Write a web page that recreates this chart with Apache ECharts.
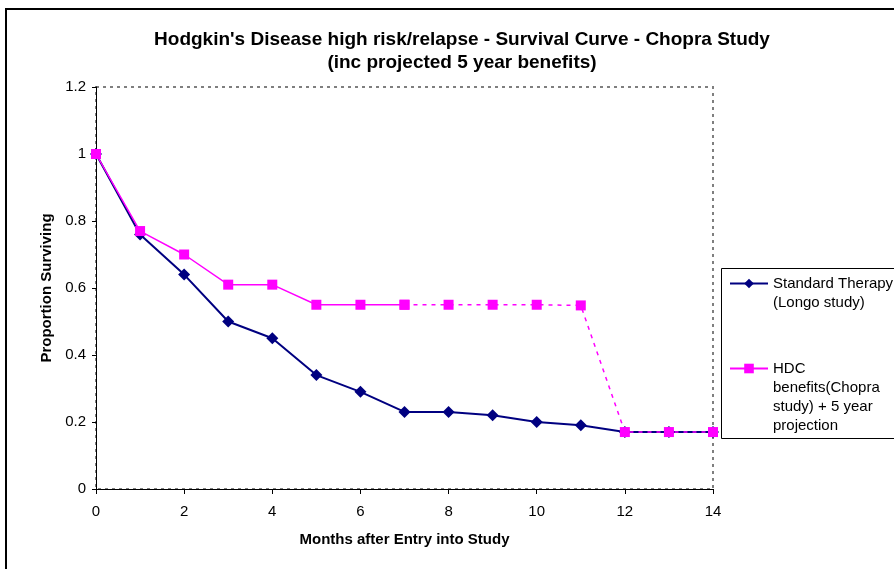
<!DOCTYPE html>
<html>
<head>
<meta charset="utf-8">
<script src="https://cdn.jsdelivr.net/npm/echarts@6/dist/echarts.min.js"></script>
<style>html,body{margin:0;padding:0;background:#fff}#c{width:894px;height:569px}</style>
</head>
<body>
<div id="c"></div>
<script>
var months = [0,1,2,3,4,5,6,7,8,9,10,11,12,13,14];
var standardTherapy = [1.00,0.76,0.64,0.50,0.45,0.34,0.29,0.23,0.23,0.22,0.20,0.19,0.17,0.17,0.17];
var hdcObserved = [1.00,0.77,0.70,0.61,0.61,0.55,0.55,0.55,null,null,null,null,null,null,null];
var hdcProjected = [null,null,null,null,null,null,null,0.55,0.55,0.55,0.55,0.548,0.17,0.17,0.17];
var yTicks = [0,0.2,0.4,0.6,0.8,1,1.2];
var xTicks = [0,2,4,6,8,10,12,14];

var nameStd = 'Standard Therapy\n(Longo study)';
var nameHdc = 'HDC\nbenefits(Chopra\nstudy) + 5 year\nprojection';

function pairs(xs, ys){ return xs.map(function(x,i){ return [x, ys[i]]; }); }

var chart = echarts.init(document.getElementById('c'));
var font = '"Liberation Sans", Arial, sans-serif';
var LH = 19;
chart.setOption({
  backgroundColor: '#fff',
  animation: false,
  textStyle: {fontFamily: font},
  title: {
    text: "Hodgkin's Disease high risk/relapse - Survival Curve - Chopra Study\n(inc projected 5 year benefits)",
    left: 457, top: 23, textAlign: 'center',
    textStyle: {fontFamily: font, fontSize: 19, fontWeight: 'bold', color: '#000', lineHeight: 23}
  },
  graphic: [{
    type: 'rect', silent: true, z: -1,
    shape: {x: 6, y: 9, width: 900, height: 570},
    style: {fill: 'none', stroke: '#000', lineWidth: 2}
  }, {
    type: 'rect', silent: true, z: -1,
    shape: {x: 721.5, y: 268.5, width: 180, height: 170},
    style: {fill: 'none', stroke: '#000', lineWidth: 1}
  }],
  grid: {
    left: 96, right: 181, top: 87, bottom: 80,
    show: true, borderColor: '#7f7f7f', borderWidth: 2, borderType: [3, 4]
  },
  legend: {
    orient: 'vertical', left: 729, top: 255,
    padding: 0,
    itemGap: -10,
    itemWidth: 38, itemHeight: 12,
    textStyle: {fontFamily: font, fontSize: 15, color: '#000', lineHeight: LH},
    formatter: function(name){
      var lines = name.split('\n').length;
      var pre = '';
      for (var i = 0; i < lines - 1; i++) pre += '\n';
      return pre + name;
    },
    data: [nameStd, nameHdc]
  },
  xAxis: {
    type: 'value', min: 0, max: 14, interval: 2,
    name: 'Months after Entry into Study', nameLocation: 'middle', nameGap: 43,
    nameTextStyle: {fontFamily: font, fontSize: 15, fontWeight: 'bold', color: '#000'},
    axisLine: {lineStyle: {color: '#000', width: 1}},
    axisTick: {show: true, length: 5, lineStyle: {color: '#000'}},
    axisLabel: {margin: 15, fontSize: 15, color: '#000', fontFamily: font,
      formatter: function(v){ return xTicks.indexOf(v) >= 0 ? String(v) : ''; }},
    splitLine: {show: false}
  },
  yAxis: {
    type: 'value', min: 0, max: 1.2, interval: 0.2,
    name: 'Proportion Surviving', nameLocation: 'middle', nameGap: 41, nameRotate: 90,
    nameTextStyle: {fontFamily: font, fontSize: 15, fontWeight: 'bold', color: '#000'},
    axisLine: {show: true, lineStyle: {color: '#000', width: 1}},
    axisTick: {show: true, length: 4, lineStyle: {color: '#000'}},
    axisLabel: {margin: 10, fontSize: 15, color: '#000', fontFamily: font,
      formatter: function(v){
        var t = yTicks.filter(function(a){ return Math.abs(a - v) < 1e-6; });
        return t.length ? String(t[0]) : '';
      }},
    splitLine: {show: false}
  },
  series: [
    {
      name: nameStd, type: 'line', data: pairs(months, standardTherapy),
      symbol: 'diamond', symbolSize: 12,
      itemStyle: {color: '#000080'},
      lineStyle: {color: '#000080', width: 2},
      z: 2
    },
    {
      name: nameHdc, type: 'line', data: pairs(months, hdcObserved),
      symbol: 'rect', symbolSize: 10,
      itemStyle: {color: '#FF00FF'},
      lineStyle: {color: '#FF00FF', width: 1.5},
      z: 3
    },
    {
      name: nameHdc, type: 'line', data: pairs(months, hdcProjected),
      symbol: 'rect', symbolSize: 10,
      itemStyle: {color: '#FF00FF'},
      lineStyle: {color: '#FF00FF', width: 1.5, type: [4, 5]},
      z: 3
    }
  ]
});
</script>
</body>
</html>
